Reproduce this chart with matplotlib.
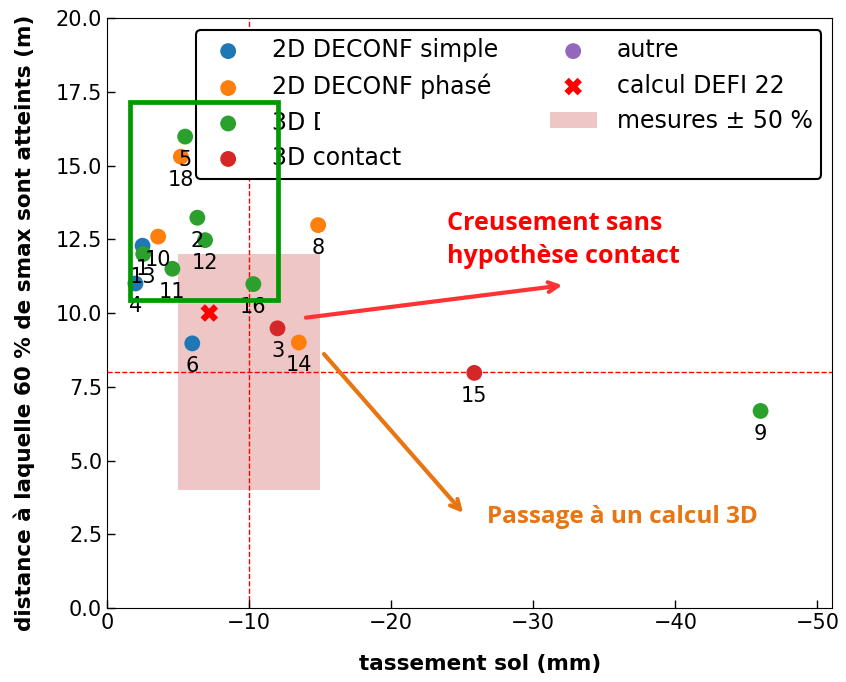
import matplotlib
matplotlib.use("Agg")
import matplotlib.pyplot as plt
from matplotlib.patches import Rectangle
from matplotlib.transforms import Bbox

# data
simple_x = [-2.0, -2.5, -6.0]
simple_y = [11.0, 12.28, 8.97]
simple_lab = ["4", "1", "6"]

phase_x = [-3.6, -5.2, -14.86, -13.5]
phase_y = [12.59, 15.3, 12.98, 9.0]
phase_lab = ["10", "18", "8", "14"]

d3_x = [-2.55, -4.6, -5.5, -6.36, -6.9, -10.3, -46.0]
d3_y = [12.0, 11.5, 15.98, 13.23, 12.47, 10.98, 6.68]
d3_lab = ["13", "11", "5", "2", "12", "16", "9"]

contact_x = [-12.0, -25.85]
contact_y = [9.48, 7.97]
contact_lab = ["3", "15"]

defi_x = [-7.2]
defi_y = [10.0]

mes_x = [-5, -15]
mes_y = [4, 12]

ref_x = -10
ref_y = 8

fig = plt.figure(figsize=(8.46, 6.82), dpi=100)
ax = fig.add_axes([0.1265, 0.1085, 0.983 - 0.1265, 0.9736 - 0.1085])

ax.axvline(ref_x, color="red", ls="--", lw=1, zorder=1)
ax.axhline(ref_y, color="red", ls="--", lw=1, zorder=1)

ax.add_patch(Rectangle((mes_x[0], mes_y[0]), mes_x[1] - mes_x[0], mes_y[1] - mes_y[0],
                       facecolor="#efc6c6", edgecolor="none", zorder=0))

ms = 130
groups = [
    (simple_x, simple_y, simple_lab, "tab:blue", "2D DECONF simple"),
    (phase_x, phase_y, phase_lab, "tab:orange", "2D DECONF phasé"),
    (d3_x, d3_y, d3_lab, "tab:green", "3D DECONF"),
    (contact_x, contact_y, contact_lab, "tab:red", "3D contact"),
]
handles = []
for xs, ys, labs, c, name in groups:
    h = ax.scatter(xs, ys, s=ms, color=c, label=name, zorder=3, edgecolors="none")
    handles.append(h)
    for x, y, t in zip(xs, ys, labs):
        ax.annotate(t, (x, y), xytext=(0, -16.5), textcoords="offset points",
                    ha="center", va="center", fontsize=15, zorder=4)
h_autre = ax.scatter([], [], s=ms, color="tab:purple", edgecolors="none")
h_defi = ax.scatter(defi_x, defi_y, marker="X", s=160, color="red", zorder=3, edgecolors="none")
h_mes = Rectangle((0, 0), 1, 1, facecolor="#efc6c6", edgecolor="none")

ax.set_xlim(0, -51)
ax.set_ylim(0, 20)
ax.set_xticks([0, -10, -20, -30, -40, -50])
ax.set_yticks([0, 2.5, 5, 7.5, 10, 12.5, 15, 17.5, 20])
ax.tick_params(direction="in", labelsize=15, length=6, width=1)
ax.set_xlabel("tassement sol (mm)", fontsize=15.5, fontweight="bold")
ax.set_ylabel("distance à laquelle 60 % de smax sont atteints (m)", fontsize=15.5,
              fontweight="bold")
ax.xaxis.set_label_coords(0.5145, -0.078)
ax.yaxis.set_label_coords(-0.1, 0.483)

leg = ax.legend(handles + [h_autre, h_defi, h_mes],
                ["2D DECONF simple", "2D DECONF phasé", "3D DECONF", "3D contact",
                 "autre", "calcul DEFI 22", "mesures ± 50 %"],
                ncol=2, loc="upper right", bbox_to_anchor=(0.986, 0.98), borderaxespad=0,
                fontsize=17, framealpha=1, edgecolor="black", fancybox=True, borderpad=0.36,
                handletextpad=0.86, columnspacing=2.17, labelspacing=0.485)
leg.get_frame().set_linewidth(1.5)
leg.set_zorder(5)

ax.add_patch(Rectangle((-1.62, 10.44), -12.04 + 1.62, 17.15 - 10.44, fill=False,
                       edgecolor="#009900", lw=3.4, zorder=6))

ax.annotate("", xy=(-32.25, 10.95), xytext=(-13.8, 9.83),
            arrowprops=dict(arrowstyle="->,head_length=0.7,head_width=0.35",
                            color="#ff3333", lw=3), zorder=6)
ax.annotate("", xy=(-25.2, 3.15), xytext=(-15.14, 8.68),
            arrowprops=dict(arrowstyle="->,head_length=0.7,head_width=0.35",
                            color="#e87511", lw=3), zorder=6)
ax.text(-23.94, 12.47, "Creusement sans\nhypothèse contact", color="red", fontsize=18,
        fontweight="bold", family="Open Sans", ha="left", va="center", linespacing=1.45)
ax.text(-36.3, 3.08, "Passage à un calcul 3D", color="#e87511", fontsize=17.5,
        fontweight="bold", family="Open Sans", ha="center", va="center")

fig.canvas.draw()
t = leg.get_texts()[2]
cut_px = 320
t.set_clip_box(Bbox([[0, 0], [cut_px, 682]]))
t.set_clip_on(True)

fig.savefig("out.png", dpi=100)
